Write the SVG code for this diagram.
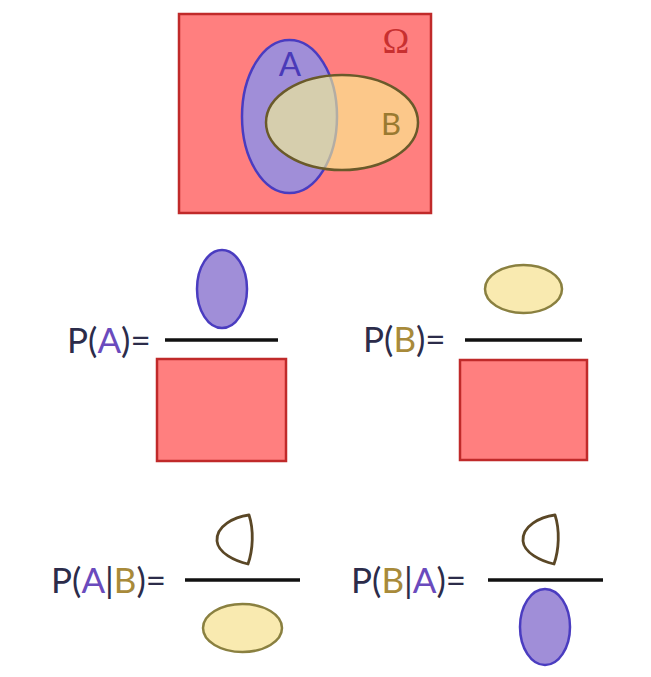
<svg xmlns="http://www.w3.org/2000/svg" width="651" height="677" viewBox="0 0 651 677">
<style>
.omega{fill:#ff7f7f;stroke:#c02a2a;stroke-width:2.5}
.ea{fill:#a08ed8;stroke:#4a3cc0;stroke-width:2.5}
.eb{fill:#f9eab0;stroke:#8a8040;stroke-width:2.5}
.cap{fill:#fff;stroke:#5a4726;stroke-width:2.8;stroke-linejoin:round}
.bar{stroke:#111;stroke-width:3.5}
.t{font-family:Lato,"Open Sans",sans-serif;font-size:35px;fill:#2c2c4a}
.ca{fill:#6a4bbd}
.cb{fill:#a88a3a}
</style>
<rect width="651" height="677" fill="#fff"/>
<g id="venn">
<rect class="omega" x="179" y="14" width="252" height="199"/>
<ellipse cx="289.5" cy="116.5" rx="47.5" ry="76.5" fill="#a08ed8" stroke="#4a3cc0" stroke-width="2.5"/>
<ellipse cx="342" cy="122.5" rx="76" ry="47.5" fill="#faf891" fill-opacity="0.6" stroke="#6a5a2a" stroke-width="2.5"/>
<text x="396" y="53" font-family="Liberation Serif,serif" font-size="36" fill="#c83030" text-anchor="middle">Ω</text>
<text x="290" y="76" font-family="Lato,sans-serif" font-size="33" fill="#4a3ab8" text-anchor="middle">A</text>
<text x="391" y="135" font-family="Lato,sans-serif" font-size="31" fill="#9a7a30" text-anchor="middle">B</text>
</g>
<g id="pa">
<text class="t" x="67" y="353">P(<tspan class="ca">A</tspan>)=</text>
<ellipse class="ea" cx="222" cy="289" rx="25" ry="39"/>
<line class="bar" x1="165" y1="340" x2="278" y2="340"/>
<rect class="omega" x="157" y="359" width="129" height="102"/>
</g>
<g id="pb">
<text class="t" x="363" y="352">P(<tspan class="cb">B</tspan>)=</text>
<ellipse class="eb" cx="523.5" cy="289" rx="38.5" ry="24"/>
<line class="bar" x1="465" y1="340" x2="582" y2="340"/>
<rect class="omega" x="460" y="360" width="127" height="100"/>
</g>
<g id="pab">
<text class="t" x="51" y="593">P(<tspan class="ca">A</tspan>|<tspan class="cb">B</tspan>)=</text>
<path class="cap" d="M249,515 C234,517 216,526 217,541 C218,553 235,561 248,564 C253,550 254,530 249,515 Z"/>
<line class="bar" x1="185" y1="580" x2="300" y2="580"/>
<ellipse class="eb" cx="242.5" cy="628" rx="39.5" ry="24"/>
</g>
<g id="pba">
<text class="t" x="351" y="593">P(<tspan class="cb">B</tspan>|<tspan class="ca">A</tspan>)=</text>
<path class="cap" d="M555,515 C540,517 522,526 523,541 C524,553 541,561 554,564 C559,550 560,530 555,515 Z"/>
<line class="bar" x1="488" y1="580" x2="603" y2="580"/>
<ellipse class="ea" cx="545" cy="627" rx="25" ry="38"/>
</g>
</svg>
